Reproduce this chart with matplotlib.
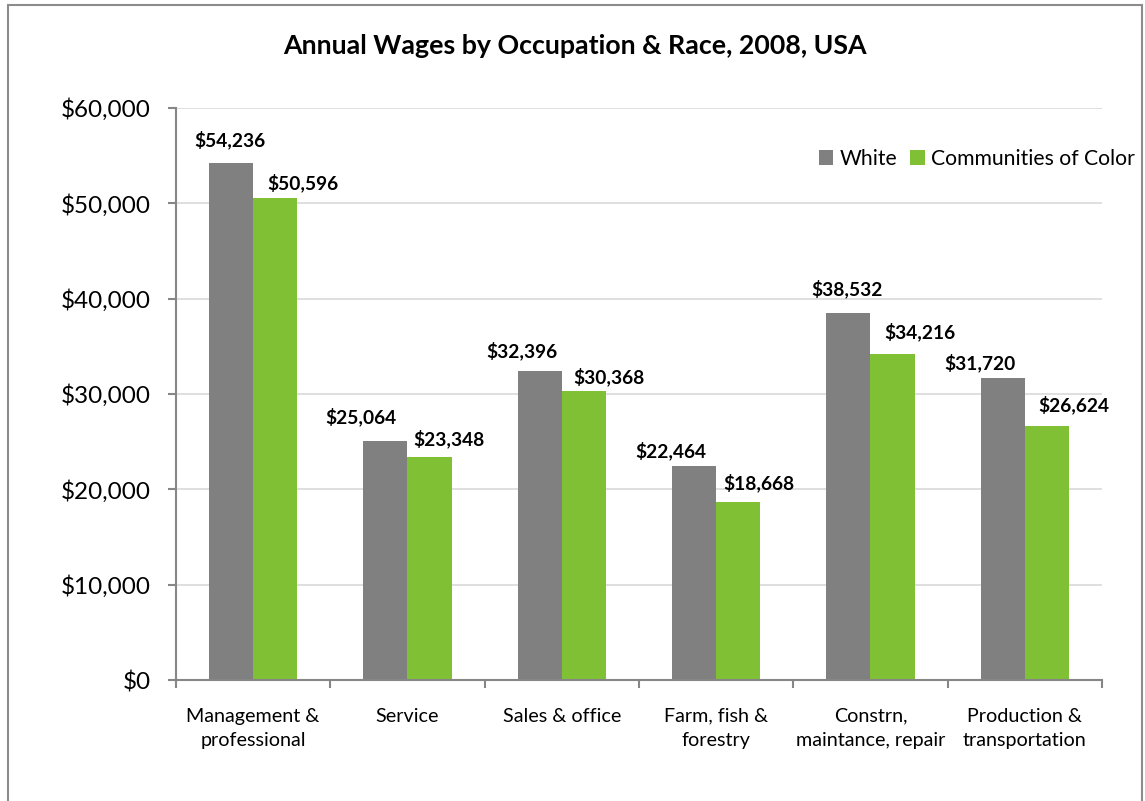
import matplotlib.pyplot as plt
import matplotlib.patches as mpatches
import numpy as np
from matplotlib.ticker import FuncFormatter

categories = ['Management &\nprofessional', 'Service', 'Sales & office',
              'Farm, fish &\nforestry', 'Constrn,\nmaintance, repair',
              'Production &\ntransportation']
white = [54236, 25064, 32396, 22464, 38532, 31720]
color = [50596, 23348, 30368, 18668, 34216, 26624]
series_names = ['White', 'Communities of Color']

# label nudges in pixels (dx, dy) so labels sit like the Excel original
white_nudge = [(-1, 23), (-25, 24), (-18, 20), (-23, 15), (-1, 24), (-23, 15)]
color_nudge = [(28, 15), (19, 19), (25, 14), (21, 19), (27, 22), (27, 21)]

GRAY = '#808080'
GREEN = '#80c035'

plt.rcParams['font.family'] = ['Lato', 'DejaVu Sans']

fig = plt.figure(figsize=(11.45, 8.01), dpi=100)
ax = fig.add_axes([0.1537, 0.151, 0.8087, 0.7142])

# outer border of the chart area (bottom edge runs off the image)
fig.patches.append(mpatches.Rectangle((8 / 1145, -0.05), 1134 / 1145, 1.05 - 5 / 801,
                                      transform=fig.transFigure, fill=False,
                                      edgecolor='#8c8c8c', linewidth=1.5))

x = np.arange(len(categories))
w = 0.286
b1 = ax.bar(x - w / 2, white, w, color=GRAY, label=series_names[0])
b2 = ax.bar(x + w / 2, color, w, color=GREEN, label=series_names[1])

for bars, nudges in ((b1, white_nudge), (b2, color_nudge)):
    for r, (dx, dy) in zip(bars, nudges):
        ax.annotate('${:,.0f}'.format(r.get_height()),
                    (r.get_x() + r.get_width() / 2, r.get_height()),
                    xytext=(dx, dy), textcoords='offset pixels',
                    ha='center', va='center', fontsize=13.8, fontweight='bold')

ax.set_ylim(0, 60000)
ax.set_xlim(-0.5, len(categories) - 0.5)
ax.set_yticks(range(0, 60001, 10000))
ax.yaxis.set_major_formatter(FuncFormatter(lambda v, p: '${:,.0f}'.format(v)))
ax.set_xticks(np.arange(-0.5, len(categories), 1.0))
ax.set_xticklabels([])
ax.set_xticks(x, minor=True)
ax.set_xticklabels(categories, minor=True, fontsize=14.2, linespacing=1.5)
ax.tick_params(axis='x', which='minor', length=0, pad=20)
ax.tick_params(axis='x', which='major', length=6, direction='out', color='#868686', width=1.5)
ax.tick_params(axis='y', length=6, direction='out', color='#868686', width=1.5,
               labelsize=17.5, pad=12)

ax.grid(axis='y', color='#d9d9d9', linewidth=1.2)
ax.set_axisbelow(True)
for s in ('top', 'right'):
    ax.spines[s].set_visible(False)
for s in ('left', 'bottom'):
    ax.spines[s].set_color('#868686')
    ax.spines[s].set_linewidth(1.5)

fig.suptitle('Annual Wages by Occupation & Race, 2008, USA', x=0.502, y=0.958,
             fontsize=19.3, fontweight='bold')

ax.legend(loc='upper right', bbox_to_anchor=(1.045, 0.943), ncol=2, frameon=False,
          fontsize=15.2, handlelength=0.7, handleheight=0.7, handletextpad=0.3,
          columnspacing=0.6, borderaxespad=0)

fig.savefig('out.png', dpi=100)
